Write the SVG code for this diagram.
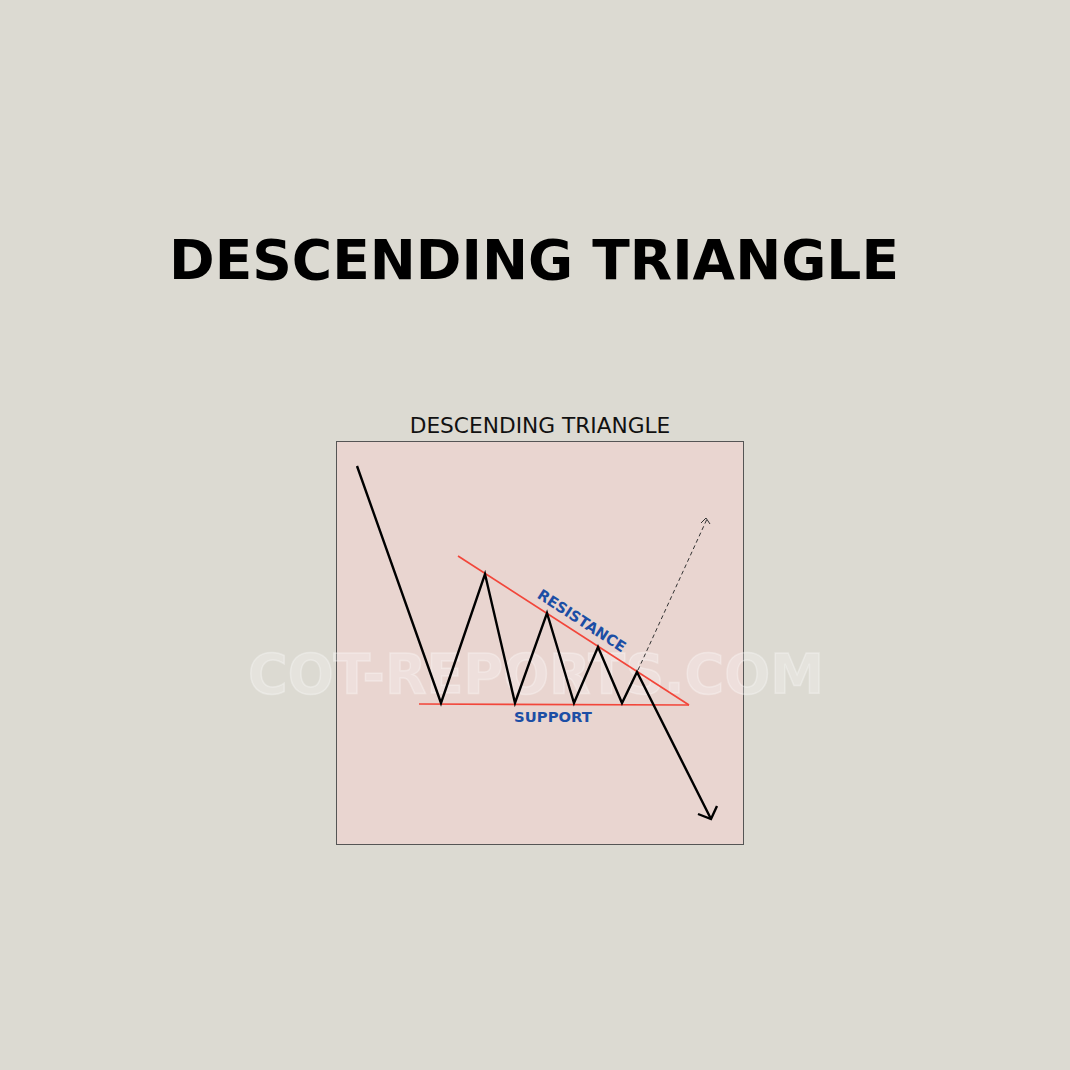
<svg xmlns="http://www.w3.org/2000/svg" width="1070" height="1070" viewBox="0 0 1070 1070">
<style>
.title{font-family:"DejaVu Sans",Verdana,sans-serif;font-weight:bold;font-size:55px;fill:#000;text-anchor:middle}
.sub{font-family:"DejaVu Sans",Verdana,sans-serif;font-size:21.7px;fill:#111;text-anchor:middle}
.lbl{font-family:"DejaVu Sans",Verdana,sans-serif;font-weight:bold;font-size:14.8px;fill:#1c4ea5;text-anchor:middle}
.wm{font-family:"DejaVu Sans",Verdana,sans-serif;font-weight:bold;font-size:56px;fill:#ffffff;fill-opacity:0.25;stroke:#ffffff;stroke-opacity:0.3;stroke-width:1.5;text-anchor:middle}
.red{stroke:#f2463a;stroke-width:1.7;fill:none}
.price{stroke:#000;stroke-width:2.4;fill:none;stroke-linejoin:miter}
.dash{stroke:#333;stroke-width:1;fill:none;stroke-dasharray:4 3}
</style>
<rect width="1070" height="1070" fill="#dcdad2"/>
<g id="title"><text class="title" x="534" y="279">DESCENDING TRIANGLE</text></g>
<g id="subtitle"><text class="sub" x="540" y="433">DESCENDING TRIANGLE</text></g>
<g id="chart-frame"><rect x="336.5" y="441.5" width="407" height="403" fill="#e9d5d0" stroke="#555" stroke-width="1"/></g>
<g id="watermark"><text class="wm" x="536" y="693" textLength="576" lengthAdjust="spacingAndGlyphs">COT-REPORTS.COM</text></g>
<g id="connectors">
<line id="support-line" class="red" x1="419" y1="704" x2="689" y2="705"/>
<line id="resistance-line" class="red" x1="458" y1="556" x2="689" y2="705"/>
<polyline id="price" class="price" points="357,466 441,703 485,574 515,703 547,613 574,703 598,647 622,703 637,672 711,819"/>
<polyline id="price-arrowhead" class="price" points="698,814 711,819 717,806"/>
<line id="breakout-dash" class="dash" x1="638" y1="670" x2="707" y2="519"/>
<polyline id="breakout-arrowhead" stroke="#333" stroke-width="1" fill="none" points="701,523 706,518 710,524"/>
</g>
<g id="label-resistance"><text class="lbl" x="579" y="625" transform="rotate(33 579 625)">RESISTANCE</text></g>
<g id="label-support"><text class="lbl" x="553" y="722">SUPPORT</text></g>
</svg>
